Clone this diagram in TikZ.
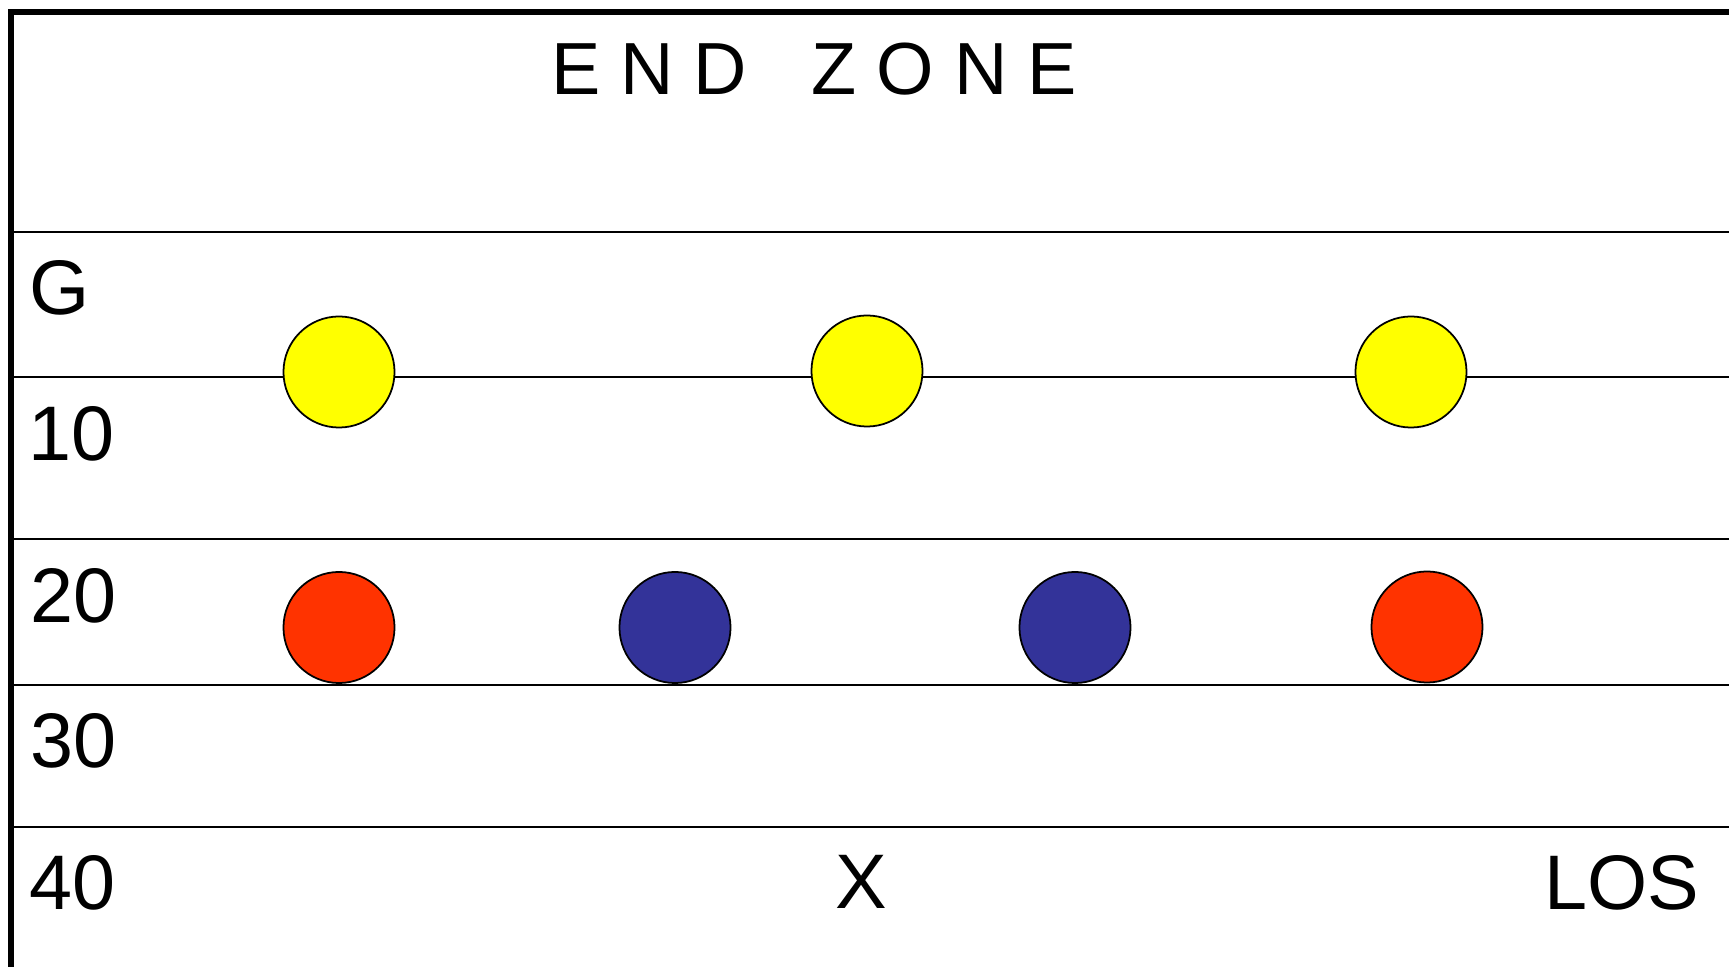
\documentclass[tikz,border=0pt]{standalone}
\usepackage{fontspec}
\setmainfont{Liberation Sans}
\usetikzlibrary{positioning}
\definecolor{playeryellow}{HTML}{FFFF00}
\definecolor{playerred}{HTML}{FF3300}
\definecolor{playerblue}{HTML}{333399}
\tikzset{
  player/.style={
    circle, draw=black, line width=0.5pt, minimum size=1.11cm,
    inner sep=0pt, fill=#1
  },
  yardline/.style={line width=0.6pt},
  fieldedge/.style={line width=1.5pt},
  yardlabel/.style={
    inner sep=0pt, anchor=base west, font=\fontsize{22}{26}\selectfont
  }
}

\begin{document}
\begin{tikzpicture}[x=0.01cm, y=-0.01cm]

  \useasboundingbox (0,0) rectangle (1729,967);

  % Field
  \draw[fieldedge] (11,967) -- (11,12) -- (1729,12);
  \foreach \ypos in {231.7, 377.3, 539.3, 685, 826.7}
    \draw[yardline] (11,\ypos) -- (1729,\ypos);

  % Labels
  \node[yardlabel, anchor=base, font=\fontsize{21}{26}\selectfont] (endzone) at (814,95)
    {\addfontfeature{LetterSpace=27}END\hspace{7pt} ZONE};
  \node[yardlabel] (goal) at (29,315) {G};
  \node[yardlabel] (ten) at (28,461) {10};
  \node[yardlabel] (twenty) at (30,623) {20};
  \node[yardlabel] (thirty) at (30,768) {30};
  \node[yardlabel] (forty) at (29,910) {40};
  \node[yardlabel, anchor=base] (ball) at (861.5,909) {X};
  \node[yardlabel, anchor=base east] (los) at (1700,910) {LOS};

  % Players
  \node[player=playeryellow] (deepleft) at (339,372) {};
  \node[player=playeryellow] (deepmid) at (867,371) {};
  \node[player=playeryellow] (deepright) at (1411,372) {};
  \node[player=playerred] (cornerleft) at (339,627.5) {};
  \node[player=playerblue] (lbleft) at (675,627.5) {};
  \node[player=playerblue] (lbright) at (1075,627.5) {};
  \node[player=playerred] (cornerright) at (1427,627) {};

\end{tikzpicture}
\end{document}
